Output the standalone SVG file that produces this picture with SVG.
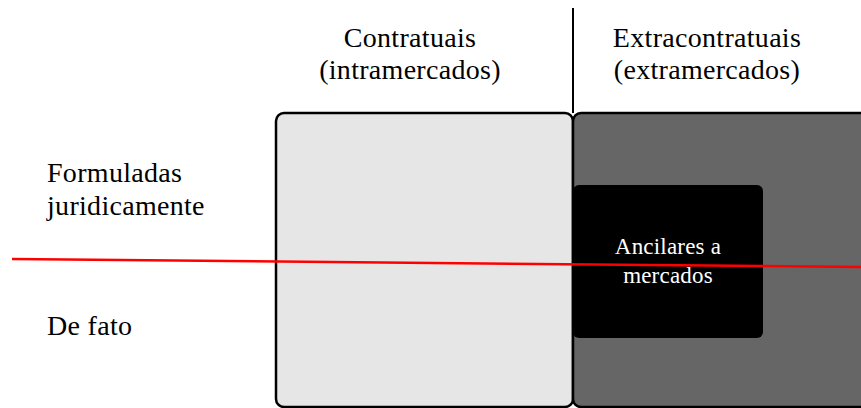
<svg xmlns="http://www.w3.org/2000/svg" width="861" height="408" viewBox="0 0 861 408">
<style>
text{font-family:"Liberation Serif","DejaVu Serif",serif;font-size:28px;letter-spacing:0.3px;fill:#000}
.c{text-anchor:middle}
.w{fill:#fff;font-size:23px;letter-spacing:0.2px}
.box{stroke:#000;stroke-width:2.5}
</style>
<rect width="861" height="408" fill="#fff"/>
<g id="contratuais"><rect class="box" x="276" y="113" width="297" height="294" rx="8" fill="#e6e6e6"/></g>
<g id="extracontratuais"><rect class="box" x="573" y="113" width="300" height="294" rx="8" fill="#666666"/></g>
<g id="ancilares"><rect x="573" y="185" width="190" height="153" rx="6" fill="#000"/>
<text class="c w" x="668" y="254">Ancilares a</text>
<text class="c w" x="668" y="283">mercados</text></g>
<g id="connectors">
<line x1="573" y1="8" x2="573" y2="113" stroke="#000" stroke-width="2"/>
<line x1="12" y1="259" x2="861" y2="267" stroke="#ff0000" stroke-width="2.5"/>
</g>
<g id="labels">
<text class="c" x="410" y="47">Contratuais</text>
<text class="c" x="410" y="79">(intramercados)</text>
<text class="c" x="707" y="47">Extracontratuais</text>
<text class="c" x="707" y="79">(extramercados)</text>
<text x="47" y="182">Formuladas</text>
<text x="47" y="215">juridicamente</text>
<text x="47" y="335">De fato</text>
</g>
</svg>
